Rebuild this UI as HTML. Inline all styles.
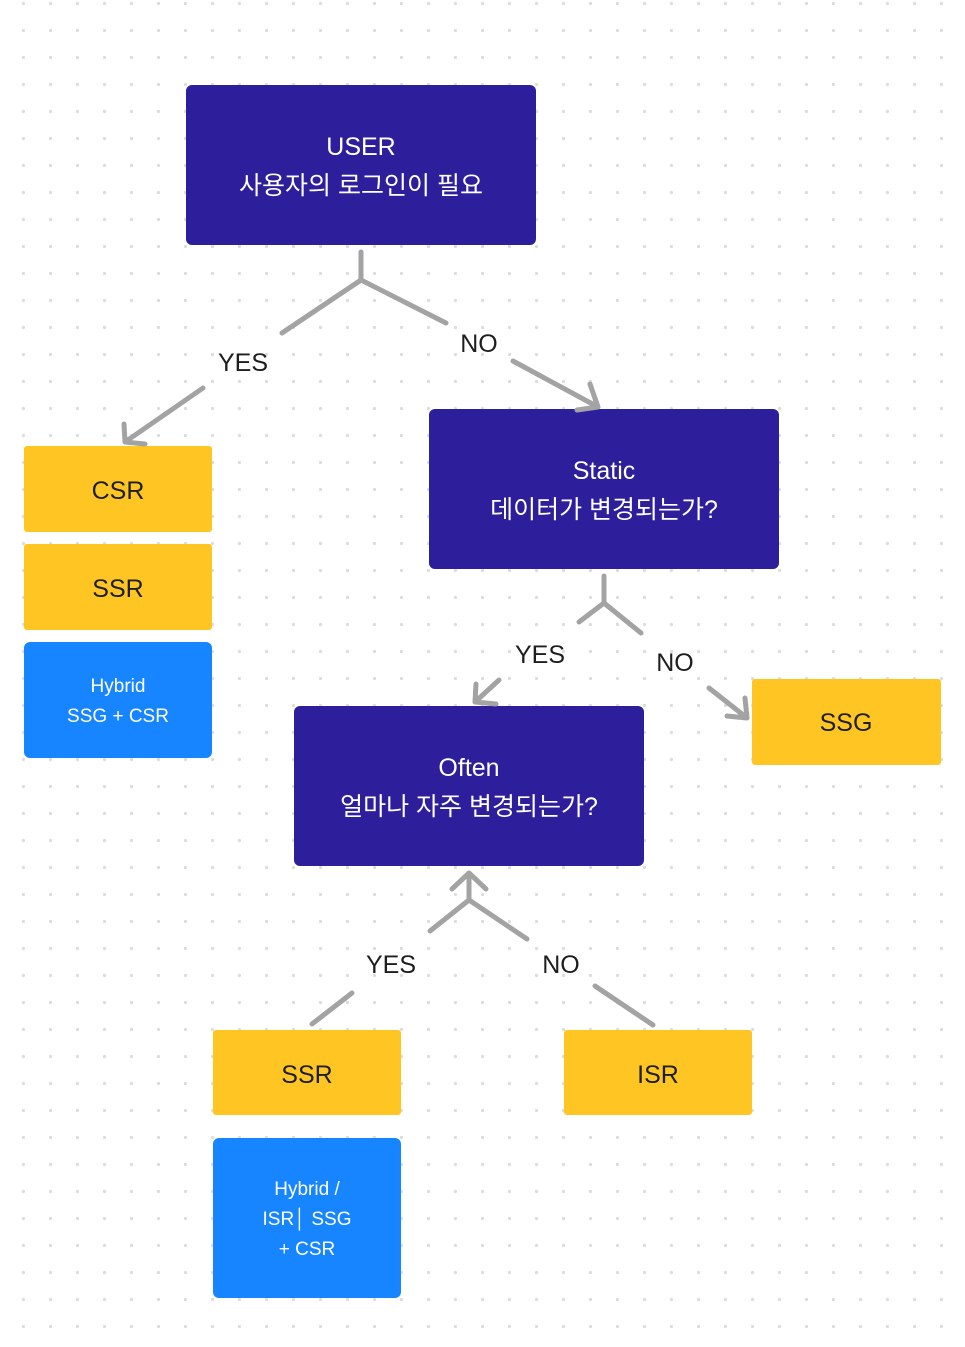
<!DOCTYPE html>
<html><head><meta charset="utf-8"><style>
html,body{margin:0;padding:0;background:#fff}
svg{display:block}
text{font-family:"Liberation Sans","Noto Sans CJK KR",sans-serif}
</style></head><body>
<svg width="965" height="1347" viewBox="0 0 965 1347" xmlns="http://www.w3.org/2000/svg">
<defs>
<pattern id="dots" x="10" y="-10" width="27" height="27" patternUnits="userSpaceOnUse">
<circle cx="13.5" cy="13.5" r="1.6" fill="#dcdcdc"/>
</pattern>
</defs>
<rect width="965" height="1347" fill="url(#dots)"/>

<g fill="#2D1E9C">
<rect x="186" y="85" width="350" height="160" rx="6"/>
<rect x="429" y="409" width="350" height="160" rx="6"/>
<rect x="294" y="706" width="350" height="160" rx="6"/>
</g>
<g fill="#FFC623">
<rect x="24" y="446" width="188" height="86" rx="3"/>
<rect x="24" y="544" width="188" height="86" rx="3"/>
<rect x="752" y="679" width="189" height="86" rx="3"/>
<rect x="213" y="1030" width="188" height="85" rx="3"/>
<rect x="564" y="1030" width="188" height="85" rx="3"/>
</g>
<g fill="#1685FF">
<rect x="24" y="642" width="188" height="116" rx="6"/>
<rect x="213" y="1138" width="188" height="160" rx="6"/>
</g>

<g fill="#fff" font-size="25" text-anchor="middle">
<text x="361" y="155">USER</text>
<text x="361" y="194">사용자의 로그인이 필요</text>
<text x="604" y="479">Static</text>
<text x="604" y="518">데이터가 변경되는가?</text>
<text x="469" y="776">Often</text>
<text x="469" y="815">얼마나 자주 변경되는가?</text>
</g>
<g fill="#fff" font-size="19" text-anchor="middle">
<text x="118" y="692">Hybrid</text>
<text x="118" y="722">SSG + CSR</text>
<text x="307" y="1195">Hybrid /</text>
<text x="307" y="1225">ISR│ SSG</text>
<text x="307" y="1255">+ CSR</text>
</g>
<g fill="#1e1e1e" font-size="25" text-anchor="middle">
<text x="118" y="499">CSR</text>
<text x="118" y="597">SSR</text>
<text x="846" y="731">SSG</text>
<text x="307" y="1083">SSR</text>
<text x="658" y="1083">ISR</text>
<text x="243" y="371">YES</text>
<text x="479" y="352">NO</text>
<text x="540" y="663">YES</text>
<text x="675" y="671">NO</text>
<text x="391" y="973">YES</text>
<text x="561" y="973">NO</text>
</g>

<g stroke="#A3A3A3" stroke-width="5" stroke-linecap="round" stroke-linejoin="round" fill="none">
<path d="M361 252 V280 M361 280 L282 333 M361 280 L446 323"/>
<path d="M203 388 L125 442 M124 424 L125 442 L145 444"/>
<path d="M513 361 L598 407 M590 384 L598 407 L577 410"/>
<path d="M604 576 V603 M604 603 L579 622 M604 603 L641 633"/>
<path d="M499 680 L475 702 M476 684 L475 702 L496 704"/>
<path d="M709 688 L747 718 M745 698 L747 718 L727 716"/>
<path d="M469 873 V900 M452 889 L469 873 L486 889 M469 900 L430 931 M469 900 L527 939"/>
<path d="M352 993 L312 1024 M595 986 L653 1025"/>
</g>
</svg>
</body></html>
